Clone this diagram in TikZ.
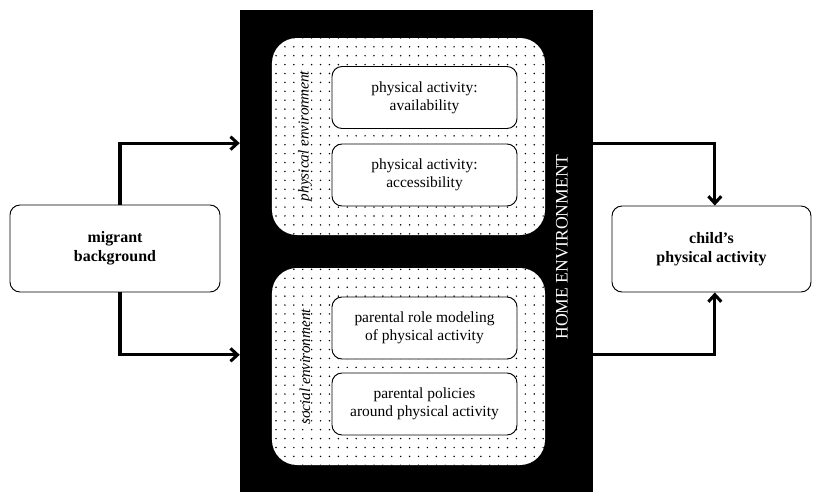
\documentclass[tikz,border=0pt]{standalone}
\usepackage{fontspec}
\setmainfont{Liberation Serif}
\usetikzlibrary{positioning,calc,patterns.meta,arrows.meta}

\begin{document}
\begin{tikzpicture}[
    x=0.03cm, y=-0.03cm,
    box/.style={draw, thick, rounded corners=0.3cm, fill=white, align=center, font=\fontsize{13.2}{15.5}\selectfont},
    outer/.style={box, font=\fontsize{13.6}{16}\selectfont\bfseries},
    dotted area/.style={rounded corners=0.75cm, minimum width=8.19cm, minimum height=5.91cm,
        preaction={fill=white}, pattern={Dots[distance=7.6pt, radius=0.7pt]}},
    side/.style={font=\fontsize{13}{15}\selectfont\itshape, rotate=90},
    arr/.style={-{Straight Barb[length=6pt, width=11pt]}, line width=2.6pt}
]
    \useasboundingbox (0,0) rectangle (817,492);

    % Home environment block
    \node[fill=black, minimum width=10.59cm, minimum height=14.46cm] (home) at (416.5,251) {};
    \node[white, rotate=90, font=\fontsize{15}{17}\selectfont] (homelbl) at (562,247) {HOME ENVIRONMENT};

    % Physical and social environment
    \node[dotted area] (pe) at (408.5,136.5) {};
    \node[dotted area] (se) at (408.5,366.5) {};
    \node[side] (pelbl) at (305,136) {physical environment};
    \node[side] (selbl) at (305,367) {social environment};

    % Home environment factors
    \node[box, minimum width=5.55cm, minimum height=1.86cm] (avail) at (424.5,97.5) {physical activity:\\availability};
    \node[box, minimum width=5.55cm, minimum height=1.86cm] (access) at (424.5,175) {physical activity:\\accessibility};
    \node[box, minimum width=5.55cm, minimum height=1.86cm] (model) at (424.5,328) {parental role modeling\\of physical activity};
    \node[box, minimum width=5.55cm, minimum height=1.86cm] (policy) at (424.5,404) {parental policies\\around physical activity};

    % Exposure and outcome
    \node[outer, minimum width=6.3cm, minimum height=2.61cm] (mig) at (115,248.5) {migrant\\background};
    \node[outer, minimum width=5.97cm, minimum height=2.58cm] (child) at (711.5,249) {child's\\physical activity};

    % Connectors
    \draw[arr] ([xshift=0.15cm]mig.north) |- ([yshift=-0.2cm]home.west |- pe.center);
    \draw[arr] ([xshift=0.15cm]mig.south) |- ([yshift=0.35cm]home.west |- se.center);
    \draw[arr] ([yshift=-0.2cm]home.east |- pe.center) -| ([xshift=0.1cm]child.north);
    \draw[arr] ([yshift=0.35cm]home.east |- se.center) -| ([xshift=0.1cm]child.south);
\end{tikzpicture}
\end{document}
